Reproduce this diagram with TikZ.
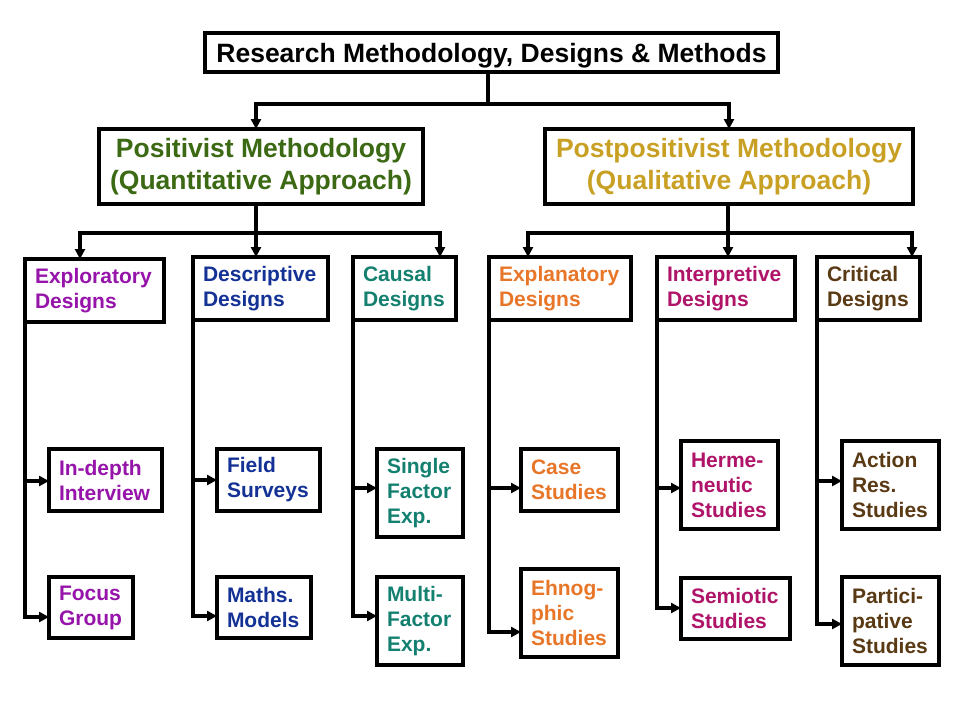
\documentclass[tikz,border=0pt]{standalone}
\usepackage{fontspec}
\setmainfont{Liberation Sans}
\usetikzlibrary{arrows.meta}
\definecolor{posc}{RGB}{60,105,20}
\definecolor{postc}{RGB}{200,160,35}
\definecolor{explc}{RGB}{150,20,170}
\definecolor{descc}{RGB}{20,50,150}
\definecolor{causc}{RGB}{20,128,112}
\definecolor{expnc}{RGB}{232,118,40}
\definecolor{intc}{RGB}{175,20,105}
\definecolor{critc}{RGB}{90,58,20}
\hyphenpenalty=10000
\exhyphenpenalty=10000
\tikzset{
  bx/.style={draw=black, line width=4pt, outer sep=0pt, inner xsep=10pt, inner ysep=0pt,
    font=\fontsize{21}{25}\selectfont\bfseries, align=left},
  hb/.style={draw=black, line width=4pt, outer sep=0pt, inner sep=0pt,
    font=\fontsize{26.5}{32}\selectfont\bfseries, align=center},
  ln/.style={line width=3.2pt},
  arr/.style={ln, -{Triangle[width=10pt,length=10pt]}}
}
\begin{document}
\begin{tikzpicture}[x=1pt,y=-1pt]
\useasboundingbox[fill=white] (0,0) rectangle (960,720);
% top levels
\node[hb, minimum width=573pt, minimum height=39pt, text depth=0pt] (top) at (491.5,52.5) {Research Methodology, Designs \& Methods};
\node[hb, text=posc, minimum width=324pt, minimum height=75pt] (pos) at (261,166.5) {Positivist Methodology\\(Quantitative Approach)};
\node[hb, text=postc, minimum width=368pt, minimum height=75pt] (post) at (729,166.5) {Postpositivist Methodology\\(Qualitative Approach)};
% designs
\node[bx, text=explc, minimum width=139pt, minimum height=63pt, text width=119pt] (explor) at (94.5,290.5) {Exploratory\\Designs};
\node[bx, text=descc, minimum width=135pt, minimum height=63pt, text width=115pt] (descr) at (260.5,288.5) {Descriptive\\Designs};
\node[bx, text=causc, minimum width=103pt, minimum height=63pt, text width=83pt] (causal) at (404.5,288.5) {Causal\\Designs};
\node[bx, text=expnc, minimum width=142pt, minimum height=63pt, text width=122pt] (explan) at (560,288.5) {Explanatory\\Designs};
\node[bx, text=intc, minimum width=138pt, minimum height=63pt, text width=118pt] (interp) at (726,288.5) {Interpretive\\Designs};
\node[bx, text=critc, minimum width=103pt, minimum height=63pt, text width=83pt] (crit) at (868.5,288.5) {Critical\\Designs};
% methods
\node[bx, text=explc, minimum width=113pt, minimum height=62pt, text width=93pt] (indepth) at (105.5,480) {In-depth\\Interview};
\node[bx, text=explc, minimum width=84pt, minimum height=61pt, text width=64pt] (focus) at (91,607.5) {Focus\\Group};
\node[bx, text=descc, minimum width=103pt, minimum height=62pt, text width=83pt] (field) at (268.5,480) {Field\\Surveys};
\node[bx, text=descc, minimum width=94pt, minimum height=61pt, text width=74pt] (maths) at (264,607.5) {Maths.\\Models};
\node[bx, text=causc, minimum width=86pt, minimum height=88pt, text width=66pt] (single) at (420,493) {Single\\Factor\\Exp.};
\node[bx, text=causc, minimum width=86pt, minimum height=88pt, text width=66pt] (multi) at (420,621) {Multi-\\Factor\\Exp.};
\node[bx, text=expnc, minimum width=97pt, minimum height=62pt, text width=77pt] (case) at (569.5,480) {Case\\Studies};
\node[bx, text=expnc, minimum width=97pt, minimum height=88pt, text width=77pt] (ehnog) at (569.5,613) {Ehnog-\\phic\\Studies};
\node[bx, text=intc, minimum width=97pt, minimum height=88pt, text width=77pt] (herme) at (729.5,485) {Herme-\\neutic\\Studies};
\node[bx, text=intc, minimum width=109pt, minimum height=61pt, text width=89pt] (semio) at (735.5,608) {Semiotic\\Studies};
\node[bx, text=critc, minimum width=97pt, minimum height=88pt, text width=77pt] (action) at (890.5,485) {Action\\Res.\\Studies};
\node[bx, text=critc, minimum width=97pt, minimum height=88pt, text width=77pt] (partici) at (890.5,621) {Partici-\\pative\\Studies};
% level connectors
\coordinate (j1) at (488,104);
\draw[ln] (top.south -| j1) -- (j1);
\draw[arr] (j1) -| ([xshift=-5pt]pos.north);
\draw[arr] (j1) -| (post.north);
\coordinate (j2) at (256,233);
\draw[ln] (pos.south -| j2) -- (j2);
\draw[arr] (j2) -| ([xshift=-14.5pt]explor.north);
\draw[arr] (j2) -| ([xshift=-4.5pt]descr.north);
\draw[arr] (j2) -| ([xshift=35.5pt]causal.north);
\coordinate (j3) at (728,233);
\draw[ln] (post.south -| j3) -- (j3);
\draw[arr] (j3) -| ([xshift=-32pt]explan.north);
\draw[arr] (j3) -| ([xshift=2pt]interp.north);
\draw[arr] (j3) -| ([xshift=43.5pt]crit.north);
% trunks and branches
\draw[arr] (explor.south west) |- ([yshift=-9.5pt]focus.west);
\path ([yshift=-1pt]indepth.west) coordinate (b1);
\draw[arr] (explor.south west |- b1) -- (b1);
\draw[arr] (descr.south west) |- ([yshift=-8.5pt]maths.west);
\path (field.west) coordinate (b2);
\draw[arr] (descr.south west |- b2) -- (b2);
\draw[arr] (causal.south west) |- ([yshift=5pt]multi.west);
\path ([yshift=5pt]single.west) coordinate (b3);
\draw[arr] (causal.south west |- b3) -- (b3);
\draw[arr] (explan.south west) |- ([yshift=-19pt]ehnog.west);
\path ([yshift=-8pt]case.west) coordinate (b4);
\draw[arr] (explan.south west |- b4) -- (b4);
\draw[arr] (interp.south west) |- (semio.west);
\path ([yshift=-3pt]herme.west) coordinate (b5);
\draw[arr] (interp.south west |- b5) -- (b5);
\draw[arr] (crit.south west) |- ([yshift=-3pt]partici.west);
\path ([yshift=4pt]action.west) coordinate (b6);
\draw[arr] (crit.south west |- b6) -- (b6);
\end{tikzpicture}
\end{document}
